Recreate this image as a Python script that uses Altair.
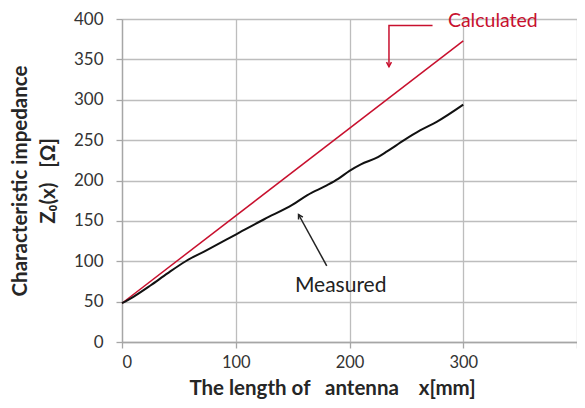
import altair as alt
import pandas as pd

# Calculated (straight line)
calc_x = [0, 300]
calc_y = [48, 373]

# Measured
meas_x = [0, 10, 25, 40, 56, 75, 100, 125, 150, 163, 180, 190, 200, 210, 225, 233, 248, 262, 277, 300]
meas_y = [48, 56, 70, 85, 100, 114, 133, 152, 170, 182, 194, 202, 212, 220, 229, 236, 250, 262, 273, 294]

# Annotations (data units)
calc_arrow_x = [273, 234.7, 234.7]
calc_arrow_y = [392.0, 392.0, 341.0]
meas_arrow_x = [180, 155.2]
meas_arrow_y = [94.3, 157.9]
label_text = ["Calculated", "Measured"]
label_x = [286.5, 152]
label_y = [389.5, 62]

x_ticks = [0, 100, 200, 300, 400]
y_ticks = [0, 50, 100, 150, 200, 250, 300, 350, 400]

FONT = "Lato"
RED = "#c8102e"

calc_df = pd.DataFrame({"x": calc_x, "y": calc_y})
meas_df = pd.DataFrame({"x": meas_x, "y": meas_y})
carrow_df = pd.DataFrame({"x": calc_arrow_x, "y": calc_arrow_y, "o": list(range(len(calc_arrow_x)))})
marrow_df = pd.DataFrame({"x": meas_arrow_x, "y": meas_arrow_y, "o": list(range(len(meas_arrow_x)))})

xs = alt.Scale(domain=[0, 400], nice=False)
ys = alt.Scale(domain=[0, 400], nice=False)

NB = "\u00a0"
x_axis = alt.Axis(
    values=x_ticks,
    labelExpr="datum.value == 400 ? '' : datum.label",
    title="The length of" + NB * 3 + "antenna" + NB * 4 + "x[mm]",
    titleX=210, titleY=52.5, titleBaseline="alphabetic", titleAlign="center",
    titleFontSize=20.5,
    labelPadding=6, labelFontSize=16.5, tickSize=6,
)
y_axis = alt.Axis(
    values=y_ticks,
    title=["Characteristic impedance", "Z\u2080(x)" + NB * 3 + "[\u03a9]"],
    titleX=-96, titleBaseline="alphabetic", titleLineHeight=28,
    labelPadding=13, tickSize=6,
)

calc = alt.Chart(calc_df).mark_line(color=RED, strokeWidth=1.5).encode(
    x=alt.X("x:Q", scale=xs, axis=x_axis),
    y=alt.Y("y:Q", scale=ys, axis=y_axis),
)
meas = alt.Chart(meas_df).mark_line(color="#111111", strokeWidth=2, interpolate="monotone").encode(
    x=alt.X("x:Q", scale=xs), y=alt.Y("y:Q", scale=ys)
)

carrow = alt.Chart(carrow_df).mark_line(color=RED, strokeWidth=1.5).encode(
    x=alt.X("x:Q", scale=xs), y=alt.Y("y:Q", scale=ys), order="o:Q"
)
chead = alt.Chart(carrow_df.iloc[[-1]]).mark_point(
    shape="M -0.55 -1 L 0 0 L 0.55 -1", filled=False, color=RED, strokeWidth=1.5, size=80, opacity=1
).encode(x=alt.X("x:Q", scale=xs), y=alt.Y("y:Q", scale=ys))

marrow = alt.Chart(marrow_df).mark_line(color="#222222", strokeWidth=1.5).encode(
    x=alt.X("x:Q", scale=xs), y=alt.Y("y:Q", scale=ys), order="o:Q"
)
mhead = alt.Chart(marrow_df.iloc[[-1]]).mark_point(
    shape="M -0.55 1 L 0 0 L 0.55 1", filled=False, color="#222222", strokeWidth=1.5, size=80, opacity=1,
    angle=331
).encode(x=alt.X("x:Q", scale=xs), y=alt.Y("y:Q", scale=ys))

lab_df = pd.DataFrame({"t": label_text, "x": label_x, "y": label_y, "c": [RED, "#222222"],
                       "s": [19.5, 21]})
labels = alt.Chart(lab_df).mark_text(
    align="left", baseline="alphabetic", font=FONT
).encode(
    x=alt.X("x:Q", scale=xs), y=alt.Y("y:Q", scale=ys), text="t:N",
    color=alt.Color("c:N", scale=None),
    size=alt.Size("s:Q", scale=None),
)

chart = alt.layer(calc, meas, carrow, chead, marrow, mhead, labels).properties(
    width=455, height=323,
    autosize=alt.AutoSizeParams(type="none"),
    padding={"left": 114, "top": 11, "right": 0, "bottom": 58},
).configure_view(stroke=None).configure_axis(
    grid=True, gridColor="#bdbdbd", gridWidth=1.3,
    domainColor="#a6a6a6", domainWidth=1.3, tickColor="#a6a6a6", tickWidth=1.3,
    labelFont=FONT, labelFontSize=17, labelColor="#333333",
    titleFont=FONT, titleFontSize=20.5, titleFontWeight="bold", titleColor="#262626",
)

chart.save("out.html", embed_options={"renderer": "svg", "actions": False})
